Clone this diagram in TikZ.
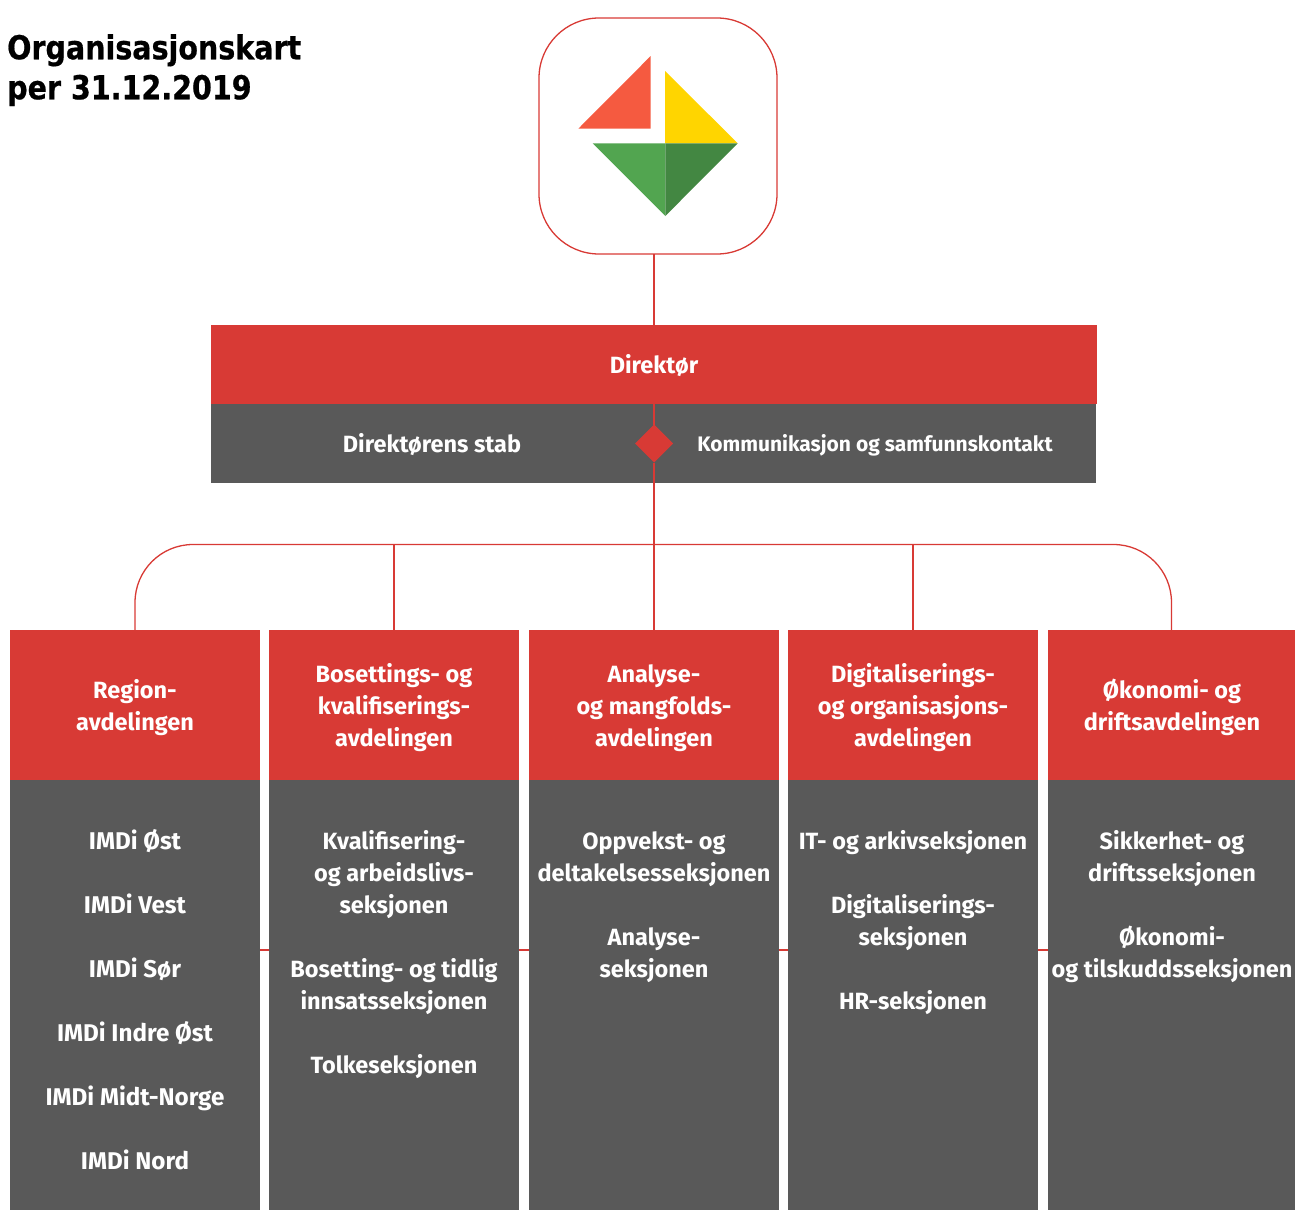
\documentclass[tikz,border=0pt]{standalone}
\usepackage{fontspec}
\setmainfont{Fira Sans}
\newfontfamily\titlefont[FakeStretch=0.865,FakeBold=0.6]{DejaVu Sans Bold}
\usepackage{tikz}
\usetikzlibrary{positioning,shapes.geometric}
\definecolor{imdired}{HTML}{D83A35}
\definecolor{imdigrey}{HTML}{595959}
\definecolor{logored}{HTML}{F55A40}
\definecolor{logoyellow}{HTML}{FFD500}
\definecolor{logogreen}{HTML}{52A550}
\definecolor{logodark}{HTML}{438742}

\begin{document}
\begin{tikzpicture}[
		x=1pt,y=-1pt,
		MyLines/.style={draw=imdired,line width=1.3pt},
		HeadBox/.style={fill=imdired,minimum height=150pt,outer sep=0pt},
		BodyBox/.style={fill=imdigrey,minimum height=430pt,outer sep=0pt},
		BoxText/.style={text=white,align=center,inner sep=0pt,
			font=\fontsize{23.5}{32}\selectfont\bfseries},
		HeadText/.style={BoxText,yshift=-3pt}
		]

		\useasboundingbox (0,0) rectangle (1295,1210);

		% title
		\node [anchor=north west,inner sep=0pt,align=left,font=\fontsize{33}{40}\selectfont\titlefont] (Title) at (7,34) {Organisasjonskart\\per 31.12.2019};

		% logo
		\node [draw=imdired,line width=1.3pt,rounded corners=60pt,minimum width=238pt,minimum height=236pt,outer sep=0pt] (Logo) at (658,136) {};
		\fill[logored] (650.7,56)--(578.3,128.7)--(650.7,128.7)--cycle;
		\fill[logoyellow] (665,71)--(737.7,143.3)--(665,143.3)--cycle;
		\fill[logogreen] (592.7,143.3)--(665.3,216)--(665.3,143.3)--cycle;
		\fill[logodark] (665.3,143.3)--(737.7,143.3)--(665.3,216)--cycle;

		% management
		\node [fill=imdired,minimum width=886pt,minimum height=79pt,outer sep=0pt] (Director) at (654,364.5) {};
		\node [BoxText,yshift=-1.5pt] (DirectorText) at (Director.center) {Direktør};
		\node [fill=imdigrey,minimum width=885pt,minimum height=79pt,outer sep=0pt] (Staff) at (653.5,443.5) {};
		\node [BoxText] (StaffLeft) at (432,445) {Direktørens stab};
		\node [BoxText,font=\fontsize{21}{32}\selectfont\bfseries] (StaffRight) at (875,445) {Kommunikasjon og samfunnskontakt};
		\node [diamond,aspect=1,fill=imdired,inner sep=0pt,minimum size=38pt,outer sep=0pt] (Knot) at (654,443.5) {};

		% departments
		\node [HeadBox,minimum width=250pt] (RegionHead) at (135,705) {};
		\node [HeadBox,minimum width=250pt] (SettleHead) at (394,705) {};
		\node [HeadBox,minimum width=250pt] (AnalysisHead) at (654,705) {};
		\node [HeadBox,minimum width=250pt] (DigitalHead) at (913,705) {};
		\node [HeadBox,minimum width=247pt] (EconomyHead) at (1171.5,705) {};

		\node [HeadText] (RegionTitle) at (RegionHead.center) {Region-\\avdelingen};
		\node [HeadText] (SettleTitle) at (SettleHead.center) {Bosettings- og\\kvalifiserings-\\avdelingen};
		\node [HeadText] (AnalysisTitle) at (AnalysisHead.center) {Analyse-\\og mangfolds-\\avdelingen};
		\node [HeadText] (DigitalTitle) at (DigitalHead.center) {Digitaliserings-\\og organisasjons-\\avdelingen};
		\node [HeadText,xshift=0.5pt,yshift=1pt] (EconomyTitle) at (EconomyHead.center) {Økonomi- og\\driftsavdelingen};

		\node [BodyBox,minimum width=250pt] (RegionBody) at (135,995) {};
		\node [BodyBox,minimum width=250pt] (SettleBody) at (394,995) {};
		\node [BodyBox,minimum width=250pt] (AnalysisBody) at (654,995) {};
		\node [BodyBox,minimum width=250pt] (DigitalBody) at (913,995) {};
		\node [BodyBox,minimum width=247pt] (EconomyBody) at (1171.5,995) {};

		\node [BoxText,font=\fontsize{24.2}{32}\selectfont\bfseries,below=49pt of RegionBody.north] (RegionText) {IMDi Øst\\[32pt]IMDi Vest\\[32pt]IMDi Sør\\[32pt]IMDi Indre Øst\\[32pt]IMDi Midt-Norge\\[32pt]IMDi Nord};
		\node [BoxText,below=50pt of SettleBody.north] (SettleText) {Kvalifisering-\\og arbeidslivs-\\seksjonen\\[32pt]Bosetting- og tidlig\\innsatsseksjonen\\[32pt]Tolkeseksjonen};
		\node [BoxText,below=51pt of AnalysisBody.north] (AnalysisText) {Oppvekst- og\\deltakelsesseksjonen\\[32pt]Analyse-\\seksjonen};
		\node [BoxText,below=50pt of DigitalBody.north] (DigitalText) {IT- og arkivseksjonen\\[32pt]Digitaliserings-\\seksjonen\\[32pt]HR-seksjonen};
		\node [BoxText,xshift=0.5pt,below=50pt of EconomyBody.north] (EconomyText) {Sikkerhet- og\\driftsseksjonen\\[32pt]Økonomi-\\og tilskuddsseksjonen};

		% connectors
		\coordinate (BusTop) at (654,544.5);
		\draw[MyLines] (Logo.south-|Director.north) -- (Director.north);
		\draw[MyLines] (Director.south) -- (Knot.north);
		\draw[MyLines] (Knot.south) -- (AnalysisHead.north);
		\draw[MyLines,rounded corners=58pt] (RegionHead.north) |- (BusTop) -| (EconomyHead.north);
		\draw[MyLines] (SettleHead.north) -- (SettleHead.north|-BusTop);
		\draw[MyLines] (DigitalHead.north) -- (DigitalHead.north|-BusTop);

		\draw[MyLines] ([yshift=45pt]RegionBody.east) -- ([yshift=45pt]SettleBody.west);
		\draw[MyLines] ([yshift=45pt]SettleBody.east) -- ([yshift=45pt]AnalysisBody.west);
		\draw[MyLines] ([yshift=45pt]AnalysisBody.east) -- ([yshift=45pt]DigitalBody.west);
		\draw[MyLines] ([yshift=45pt]DigitalBody.east) -- ([yshift=45pt]EconomyBody.west);
\end{tikzpicture}
\end{document}
